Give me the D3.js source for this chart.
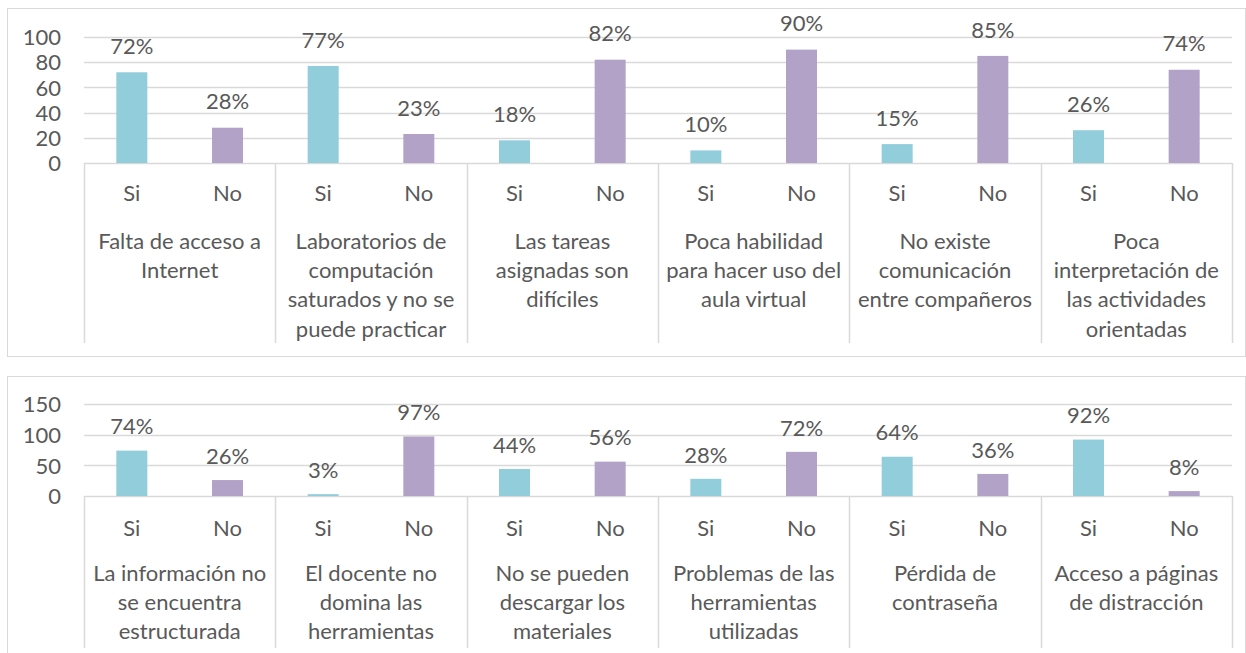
<!DOCTYPE html>
<html>
<head>
<meta charset="utf-8">
<script src="https://cdn.jsdelivr.net/npm/d3@7/dist/d3.min.js"></script>
<style>
  html, body { margin: 0; padding: 0; background: #ffffff; }
  svg { display: block; }
  text { font-family: Lato, "Open Sans", sans-serif; fill: #595959; }
</style>
</head>
<body>
<svg id="chart" width="1246" height="653"></svg>
<script>
// Answer options shown under every group
const answers = ["Si", "No"];

// Upper panel: problems, answer shares (%)
const topCategories = [
  ["Falta de acceso a", "Internet"],
  ["Laboratorios de", "computación", "saturados y no se", "puede practicar"],
  ["Las tareas", "asignadas son", "difíciles"],
  ["Poca habilidad", "para hacer uso del", "aula virtual"],
  ["No existe", "comunicación", "entre compañeros"],
  ["Poca", "interpretación de", "las actividades", "orientadas"]
];
const topSi = [72, 77, 18, 10, 15, 26];
const topNo = [28, 23, 82, 90, 85, 74];
const topTicks = [0, 20, 40, 60, 80, 100];

// Lower panel
const bottomCategories = [
  ["La información no", "se encuentra", "estructurada"],
  ["El docente no", "domina las", "herramientas"],
  ["No se pueden", "descargar los", "materiales"],
  ["Problemas de las", "herramientas", "utilizadas"],
  ["Pérdida de", "contraseña"],
  ["Acceso a páginas", "de distracción"]
];
const bottomSi = [74, 3, 44, 28, 64, 92];
const bottomNo = [26, 97, 56, 72, 36, 8];
const bottomTicks = [0, 50, 100, 150];

const colors = { Si: "#92CDDC", No: "#B2A2C7" };
const gridColor = "#D9D9D9";
const fontSize = 22;

const svg = d3.select("#chart");

function panel(opts) {
  const g = svg.append("g");
  // frame
  g.append("rect")
    .attr("x", 7.5).attr("y", opts.frameTop + 0.5)
    .attr("width", 1238).attr("height", opts.frameHeight)
    .attr("fill", "#fff").attr("stroke", gridColor).attr("stroke-width", 1);

  const x0 = d3.scaleBand()
    .domain(d3.range(opts.categories.length))
    .range([84, 1232])
    .padding(0);
  const x1 = d3.scaleBand()
    .domain(answers)
    .range([0, x0.bandwidth()])
    .paddingInner(0.676)
    .paddingOuter(0.338);
  const y = d3.scaleLinear()
    .domain([0, opts.max])
    .range([opts.base, opts.base - opts.plotHeight]);

  // gridlines
  g.append("g").selectAll("line")
    .data(opts.ticks)
    .join("line")
    .attr("x1", 84).attr("x2", 1232)
    .attr("y1", d => Math.round(y(d)) + 0.5)
    .attr("y2", d => Math.round(y(d)) + 0.5)
    .attr("stroke", gridColor).attr("stroke-width", 1.5);

  // value axis labels
  const yAxis = d3.axisLeft(y).tickValues(opts.ticks).tickSize(0).tickPadding(0);
  const ya = g.append("g").attr("transform", "translate(61,0)").call(yAxis);
  ya.select(".domain").remove();
  ya.selectAll("text")
    .attr("font-size", fontSize)
    .attr("font-family", "Lato, 'Open Sans', sans-serif")
    .attr("fill", "#595959")
    .attr("dy", "0.35em");

  // category boxes below the axis
  const boundaries = d3.range(opts.categories.length + 1)
    .map(i => i < opts.categories.length ? x0(i) : x0.range()[1]);
  g.append("g").selectAll("line")
    .data(boundaries)
    .join("line")
    .attr("x1", d => Math.round(d) + 0.5).attr("x2", d => Math.round(d) + 0.5)
    .attr("y1", opts.base).attr("y2", opts.base + opts.boxHeight)
    .attr("stroke", gridColor).attr("stroke-width", 1.5);

  // bars
  const rows = [];
  opts.categories.forEach((c, i) => {
    rows.push({ i, key: "Si", v: opts.si[i] });
    rows.push({ i, key: "No", v: opts.no[i] });
  });
  g.append("g").selectAll("rect")
    .data(rows)
    .join("rect")
    .attr("x", d => x0(d.i) + x1(d.key))
    .attr("width", x1.bandwidth())
    .attr("y", d => y(d.v))
    .attr("height", d => y(0) - y(d.v))
    .attr("fill", d => colors[d.key]);

  // value labels
  g.append("g").selectAll("text")
    .data(rows)
    .join("text")
    .attr("x", d => x0(d.i) + x1(d.key) + x1.bandwidth() / 2)
    .attr("y", d => y(d.v) - opts.labelGap)
    .attr("dy", "0.35em")
    .attr("text-anchor", "middle")
    .attr("font-size", fontSize)
    .text(d => d.v + "%");

  // Si / No labels
  g.append("g").selectAll("text")
    .data(rows)
    .join("text")
    .attr("x", d => x0(d.i) + x1(d.key) + x1.bandwidth() / 2)
    .attr("y", opts.base + opts.answerOffset)
    .attr("dy", "0.35em")
    .attr("text-anchor", "middle")
    .attr("font-size", fontSize)
    .text(d => d.key);

  // category names
  const cat = g.append("g").selectAll("text")
    .data(opts.categories)
    .join("text")
    .attr("text-anchor", "middle")
    .attr("font-size", fontSize);
  cat.selectAll("tspan")
    .data((lines, i) => lines.map((t, k) => ({ t, k, i })))
    .join("tspan")
    .attr("x", d => x0(d.i) + x0.bandwidth() / 2)
    .attr("y", d => opts.base + opts.catOffset + d.k * 29.3)
    .attr("dy", "0.35em")
    .text(d => d.t);
}

panel({
  frameTop: 8, frameHeight: 348,
  categories: topCategories, si: topSi, no: topNo,
  ticks: topTicks, max: 100,
  base: 163, plotHeight: 126,
  boxHeight: 180, labelGap: 26,
  answerOffset: 30, catOffset: 78
});

panel({
  frameTop: 376, frameHeight: 300,
  categories: bottomCategories, si: bottomSi, no: bottomNo,
  ticks: bottomTicks, max: 150,
  base: 496, plotHeight: 92,
  boxHeight: 152, labelGap: 24,
  answerOffset: 32, catOffset: 77
});
</script>
</body>
</html>
